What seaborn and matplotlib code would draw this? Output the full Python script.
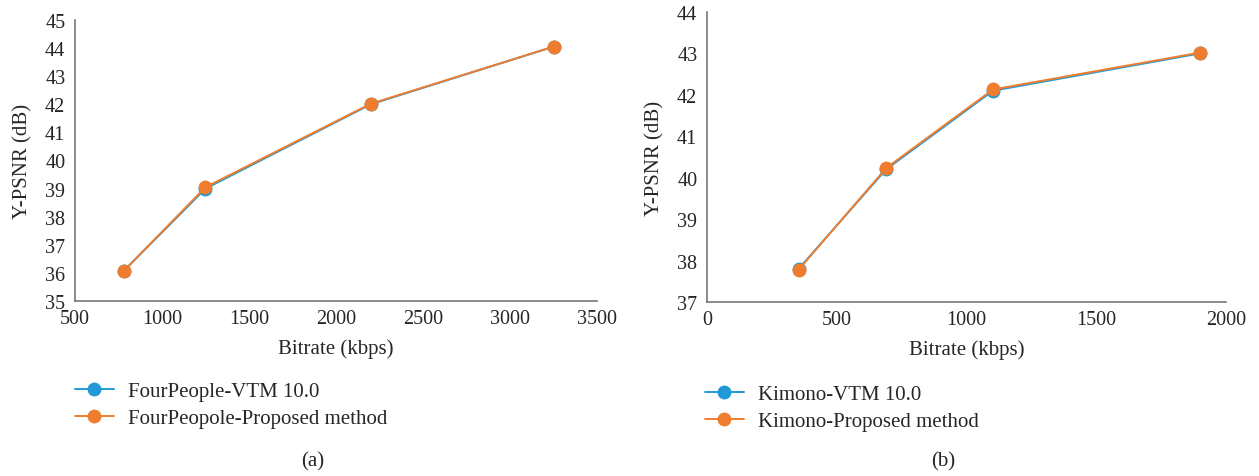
import matplotlib
matplotlib.use("Agg")
import matplotlib.pyplot as plt
import pandas as pd
import seaborn as sns

# (a) FourPeople
fp_bitrate = [780, 1250, 2200, 3250]
fp_vtm = [36.07, 39.0, 42.0, 44.05]
fp_prop = [36.07, 39.05, 42.02, 44.05]
fp_labels = ["FourPeople-VTM 10.0", "FourPeopole-Proposed method"]

# (b) Kimono
ki_bitrate = [353, 690, 1102, 1900]
ki_vtm = [37.8, 40.2, 42.1, 43.0]
ki_prop = [37.78, 40.23, 42.13, 43.02]
ki_labels = ["Kimono-VTM 10.0", "Kimono-Proposed method"]

BLUE = "#1f9ad6"
ORANGE = "#f07d2f"
W, H = 1259, 477

sns.set_style("white")
plt.rcParams["font.family"] = ["Liberation Serif", "DejaVu Serif"]


def make_df(x, y1, y2, labels):
    return pd.DataFrame({
        "Bitrate": x + x,
        "PSNR": y1 + y2,
        "Method": [labels[0]] * len(x) + [labels[1]] * len(x),
    })


def draw(ax, df, labels, xlim, xticks, ylim, legend_xy):
    sns.lineplot(data=df, x="Bitrate", y="PSNR", hue="Method",
                 hue_order=labels, palette=[BLUE, ORANGE], marker="o",
                 markersize=10, markeredgewidth=0, linewidth=1.4,
                 legend=False, ax=ax, sort=False)
    ax.set_xlim(*xlim)
    ax.set_xticks(xticks)
    ax.set_ylim(*ylim)
    ax.set_yticks(range(ylim[0], ylim[1] + 1))
    ax.set_xlabel("Bitrate (kbps)", fontsize=15, labelpad=7)
    ax.set_ylabel("Y-PSNR (dB)", fontsize=15, labelpad=9)
    ax.tick_params(axis="both", labelsize=14.5, length=0)
    ax.tick_params(axis="x", pad=6)
    ax.tick_params(axis="y", pad=7)
    for s in ["top", "right"]:
        ax.spines[s].set_visible(False)
    for s in ["left", "bottom"]:
        ax.spines[s].set_color("#777777")
        ax.spines[s].set_linewidth(1.2)
    handles = ax.get_lines()[:2]
    ax.figure.legend(handles, labels, loc="center left",
                     bbox_to_anchor=legend_xy, frameon=False, fontsize=15,
                     handlelength=1.85, labelspacing=0.35, handletextpad=0.7,
                     borderpad=0, borderaxespad=0)


fig = plt.figure(figsize=(W / 100, H / 100), dpi=100)
ax1 = fig.add_axes([75 / W, 1 - 302 / H, 522 / W, 281 / H])
ax2 = fig.add_axes([707 / W, 1 - 303 / H, 519 / W, 290 / H])

draw(ax1, make_df(fp_bitrate, fp_vtm, fp_prop, fp_labels), fp_labels,
     (500, 3500), range(500, 3501, 500), (35, 45), (75 / W, 1 - 406 / H))
draw(ax2, make_df(ki_bitrate, ki_vtm, ki_prop, ki_labels), ki_labels,
     (0, 2000), range(0, 2001, 500), (37, 44), (705 / W, 1 - 409 / H))

fig.text(313 / W, 1 - 462 / H, "(a)", ha="center", va="center", fontsize=15)
fig.text(943 / W, 1 - 462 / H, "(b)", ha="center", va="center", fontsize=15)

fig.savefig("out.png", dpi=100)
